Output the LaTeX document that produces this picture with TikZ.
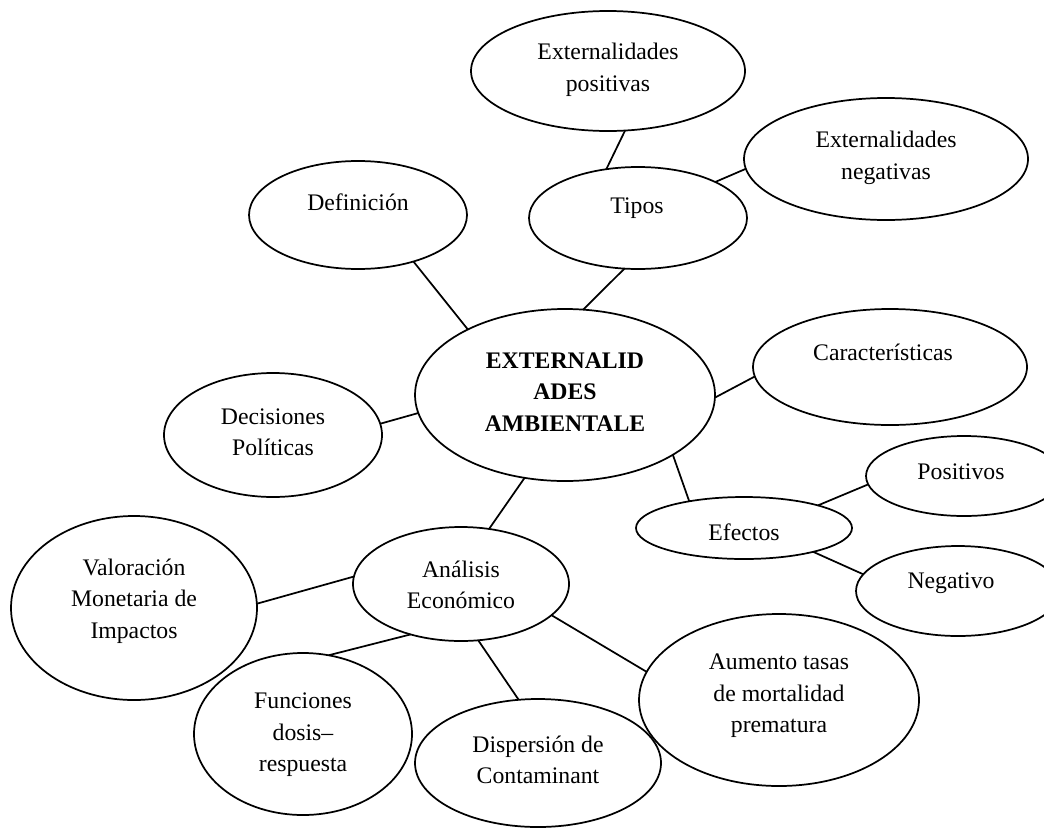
\documentclass[tikz,border=0pt]{standalone}
\usepackage{fontspec}
\setmainfont{Liberation Serif}
\usetikzlibrary{shapes.geometric}
\begin{document}
\begin{tikzpicture}[x=0.75pt,y=-0.75pt,
  bubble/.style={ellipse,draw,line width=1.3pt,inner sep=0pt,outer sep=0pt},
  radii/.style 2 args={minimum width={#1*1.5pt},minimum height={#2*1.5pt}},
  lbl/.style={align=center,inner sep=0pt,font=\fontsize{17.8}{23.6}\selectfont},
  title/.style={lbl,font=\fontsize{17.8}{23.6}\selectfont\bfseries},
  link/.style={line width=1.3pt}]
\useasboundingbox (0,0) rectangle (1044,828);

% ellipses
\node[bubble,radii={137}{60}] (extpos) at (608,71) {};
\node[bubble,radii={142}{61}] (extneg) at (886,159) {};
\node[bubble,radii={109}{51}] (tipos) at (638,218) {};
\node[bubble,radii={109}{54}] (defin) at (358,215) {};
\node[bubble,radii={150}{86}] (central) at (565,395) {};
\node[bubble,radii={137}{58}] (caract) at (890,367) {};
\node[bubble,radii={109}{62}] (decis) at (273,435) {};
\node[bubble,radii={108}{31}] (efectos) at (744,528) {};
\node[bubble,radii={98}{40}] (posit) at (964,476) {};
\node[bubble,radii={102}{45}] (negat) at (958,591) {};
\node[bubble,radii={140}{86}] (aumento) at (779,700) {};
\node[bubble,radii={108}{57}] (analisis) at (461,584) {};
\node[bubble,radii={123}{92}] (valor) at (134,608) {};
\node[bubble,radii={109}{81}] (funcion) at (303,734) {};
\node[bubble,radii={123}{64}] (dispers) at (538,763) {};

% texts
\node[lbl] (extposT) at (608,70) {Externalidades\\positivas};
\node[lbl] (extnegT) at (886,158) {Externalidades\\negativas};
\node[lbl] (tiposT) at (637,208) {Tipos};
\node[lbl] (definT) at (358,202) {Definición};
\node[title] (centralT) at (565,392) {EXTERNALID\\ADES\\AMBIENTALE};
\node[lbl] (caractT) at (883,352) {Características};
\node[lbl] (decisT) at (273,432) {Decisiones\\Políticas};
\node[lbl] (efectosT) at (744,532) {Efectos};
\node[lbl] (positT) at (961,472) {Positivos};
\node[lbl] (negatT) at (951,583) {Negativo};
\node[lbl] (aumentoT) at (779,696) {Aumento tasas\\de mortalidad\\prematura};
\node[lbl] (analisisT) at (461,585) {Análisis\\Económico};
\node[lbl] (valorT) at (134,601) {Valoración\\Monetaria de\\Impactos};
\node[lbl] (funcionT) at (303,735) {Funciones\\dosis–\\respuesta};
\node[lbl] (dispersT) at (538,760) {Dispersión de\\Contaminant};

% connectors
\draw[link] (defin.-40.4) -- (central.146.4);
\draw[link] (tipos.-105.1) -- (central.78.7);
\draw[link] (tipos.123.1) -- (extpos.-74.4);
\draw[link] (tipos.25.7) -- (extneg.-176.8);
\draw[link] (central.-1.2) -- (caract.-176.7);
\draw[link] (decis.6.5) -- (central.-173.4);
\draw[link] (central.-29.9) -- (efectos.154.7);
\draw[link] (efectos.17.2) -- (posit.-175.9);
\draw[link] (efectos.-19.9) -- (negat.170.9);
\draw[link] (central.-116.9) -- (analisis.63);
\draw[link] (analisis.176.3) -- (valor.2.4);
\draw[link] (analisis.-135) -- (funcion.72);
\draw[link] (analisis.-73.9) -- (dispers.107.6);
\draw[link] (analisis.-19.7) -- (aumento.168.6);
\end{tikzpicture}
\end{document}
